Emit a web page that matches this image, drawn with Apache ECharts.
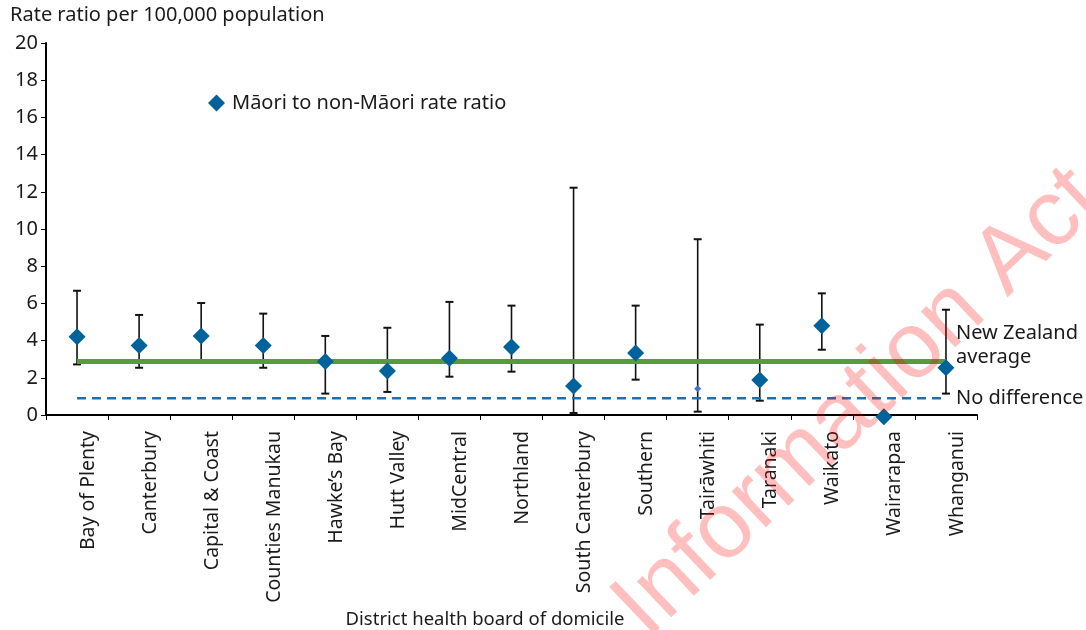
<!DOCTYPE html>
<html>
<head>
<meta charset="utf-8">
<script src="https://cdn.jsdelivr.net/npm/echarts/dist/echarts.min.js"></script>
<style>
html,body{margin:0;padding:0;background:#fff;}
#chart{width:1086px;height:630px;}
</style>
</head>
<body>
<div id="chart"></div>
<script>
// ---- data ----
const categories = ['Bay of Plenty','Canterbury','Capital & Coast','Counties Manukau',"Hawke’s Bay",'Hutt Valley','MidCentral','Northland','South Canterbury','Southern','Tairāwhiti','Taranaki','Waikato','Wairarapaa','Whanganui'];
const ratio = [4.21, 3.73, 4.25, 3.73, 2.87, 2.37, 3.05, 3.66, 1.56, 3.33, 1.41, 1.88, 4.80, -0.1, 2.54];
const lower = [2.72, 2.54, 2.95, 2.54, 1.15, 1.24, 2.06, 2.33, 0.11, 1.90, 0.18, 0.77, 3.51, null, 1.15];
const upper = [6.68, 5.38, 6.02, 5.45, 4.25, 4.69, 6.08, 5.88, 12.22, 5.88, 9.45, 4.86, 6.54, null, 5.66];
const nzAverage = 2.88;
const noDifference = 0.9;
const yMin = 0, yMax = 20, yStep = 2;
const seriesName = 'Māori to non-Māori rate ratio';
const smallMarkerCategory = 'Tairāwhiti';

const FONT = 'Noto Sans';
const TXT = '#1a1a1a';

const chart = echarts.init(document.getElementById('chart'), null, {renderer:'canvas'});

const scatterData = ratio.map((v, i) => {
  if (categories[i] === smallMarkerCategory) {
    return {value: v, symbolSize: 7, itemStyle: {color: '#4472C4', opacity: 1}};
  }
  return v;
});
const barData = [];
categories.forEach((c, i) => {
  if (lower[i] != null && upper[i] != null) barData.push([i, lower[i], upper[i]]);
});

const option = {
  animation: false,
  backgroundColor: '#fff',
  textStyle: {fontFamily: FONT},
  grid: {left: 46, right: 109, top: 43, bottom: 215, containLabel: false},
  legend: {
    left: 203, top: 88,
    itemWidth: 17, itemHeight: 17, itemGap: 10,
    textStyle: {fontSize: 20, color: TXT, fontFamily: FONT, padding: [0,0,0,2]},
    data: [seriesName]
  },
  xAxis: {
    type: 'category',
    data: categories,
    boundaryGap: true,
    axisLine: {show: true, onZero: false, lineStyle: {color: '#000', width: 2}},
    axisTick: {show: true, alignWithLabel: false, length: 5, lineStyle: {color: '#000', width: 1}},
    axisLabel: {
      rotate: 90, interval: 0, margin: 16,
      fontSize: 19.5, color: TXT, fontFamily: FONT,
      verticalAlign: 'top', padding: [1,0,0,0]
    },
    splitLine: {show: false}
  },
  yAxis: {
    type: 'value',
    min: yMin, max: yMax, interval: yStep,
    axisLine: {show: true, lineStyle: {color: '#000', width: 2}},
    axisTick: {show: true, length: 5, lineStyle: {color: '#000', width: 1}},
    axisLabel: {fontSize: 20, color: TXT, fontFamily: FONT, margin: 8},
    splitLine: {show: false}
  },
  series: [
    {
      name: 'error',
      type: 'custom',
      z: 2,
      silent: true,
      renderItem: function (params, api) {
        const x = api.value(0);
        const pLo = api.coord([x, api.value(1)]);
        const pHi = api.coord([x, api.value(2)]);
        const cap = 4;
        const st = {stroke: '#111', lineWidth: 1.6};
        const capSt = {stroke: '#111', lineWidth: 2};
        return {
          type: 'group',
          children: [
            {type: 'line', shape: {x1: pLo[0], y1: pLo[1], x2: pHi[0], y2: pHi[1]}, style: st},
            {type: 'line', shape: {x1: pHi[0]-cap, y1: pHi[1], x2: pHi[0]+cap, y2: pHi[1]}, style: capSt},
            {type: 'line', shape: {x1: pLo[0]-cap, y1: pLo[1], x2: pLo[0]+cap, y2: pLo[1]}, style: capSt}
          ]
        };
      },
      data: barData
    },
    {
      name: 'New Zealand average',
      type: 'line',
      z: 3,
      symbol: 'none',
      silent: true,
      lineStyle: {color: '#5B9A3A', width: 5},
      data: categories.map(() => nzAverage)
    },
    {
      name: 'No difference',
      type: 'line',
      z: 3,
      symbol: 'none',
      silent: true,
      lineStyle: {color: '#1F6FAD', width: 2.5, type: [9, 6]},
      data: categories.map(() => noDifference)
    },
    {
      name: seriesName,
      type: 'scatter',
      z: 5,
      clip: false,
      symbol: 'diamond',
      symbolSize: 17,
      itemStyle: {color: '#00629A', opacity: 1},
      data: scatterData
    }
  ],
  graphic: [
    {type: 'text', left: 10, top: 5, style: {text: 'Rate ratio per 100,000 population', fontSize: 20, fill: TXT, fontFamily: FONT}},
    {type: 'text', x: 956, y: 333, style: {text: 'New Zealand', fontSize: 20, fill: TXT, fontFamily: FONT, verticalAlign: 'middle'}},
    {type: 'text', x: 956, y: 357, style: {text: 'average', fontSize: 20, fill: TXT, fontFamily: FONT, verticalAlign: 'middle'}},
    {type: 'text', x: 956, y: 398, style: {text: 'No difference', fontSize: 20, fill: TXT, fontFamily: FONT, verticalAlign: 'middle'}},
    {type: 'text', x: 485, y: 620, style: {text: 'District health board of domicile', fontSize: 18.5, fill: TXT, fontFamily: FONT, align: 'center', verticalAlign: 'middle'}},
    {type: 'text', x: 662, y: 655, rotation: 0.76, z: 100, silent: true,
      style: {text: 'Information Act', fontSize: 94, fill: 'rgba(255,0,0,0.25)', fontFamily: 'Liberation Sans', verticalAlign: 'bottom'}}
  ]
};
chart.setOption(option);
</script>
</body>
</html>
